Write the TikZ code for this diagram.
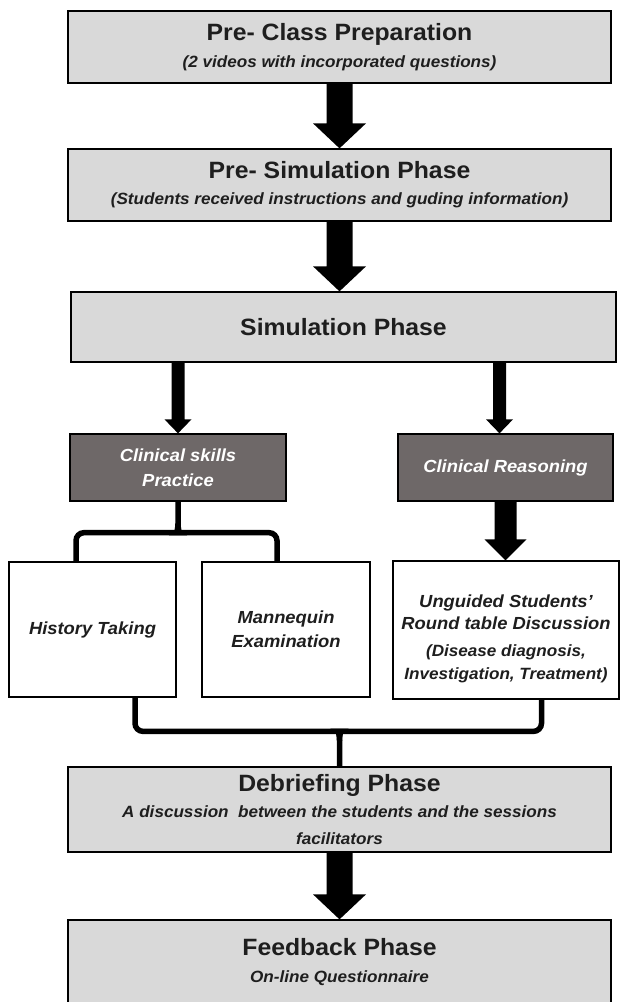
\documentclass[tikz,border=0pt]{standalone}
\usepackage{fontspec}
\setmainfont{Liberation Sans}[FakeStretch=1.05]
\usetikzlibrary{calc}
\definecolor{lightbox}{HTML}{D9D9D9}
\definecolor{darkbox}{HTML}{6E6868}
\definecolor{ink}{HTML}{1E1E1E}
\newcommand\ttlf{\fontsize{23.6}{28}\selectfont\bfseries\upshape}
\newcommand\subf{\fontsize{16.3}{19}\selectfont\bfseries\itshape}
\newcommand\midf{\fontsize{17.5}{21}\selectfont\bfseries\itshape}
% block arrow: from, to (same x), half shaft, half head, head length
\newcommand\blockarrow[5]{%
  \fill ($(#1)+(-#3,0)$) -- ($(#2)+(-#3,-#5)$) -- ($(#2)+(-#4,-#5)$) -- (#2)
        -- ($(#2)+(#4,-#5)$) -- ($(#2)+(#3,-#5)$) -- ($(#1)+(#3,0)$) -- cycle;}
\begin{document}
\begin{tikzpicture}[x=1pt,y=-1pt,
  box/.style={draw=black, line width=1.3pt, fill=lightbox, inner sep=0pt,
              text=ink, align=center, font=\subf},
  dbox/.style={box, fill=darkbox, text=white, font=\midf},
  wbox/.style={box, fill=white, font=\midf},
  brace/.style={line width=5.5pt, black}]
\fill[white] (0,0) rectangle (623,1002);
\useasboundingbox (0,0) rectangle (623,1002);

\node[box, minimum width=543pt, minimum height=72pt] (pre) at (339.5,47)
  {{\ttlf Pre- Class Preparation}\\[8pt](2 videos with incorporated questions)};
\node[box, minimum width=543pt, minimum height=72pt] (presim) at (339.5,185)
  {{\ttlf Pre- Simulation Phase}\\[7pt](Students received instructions and guding information)};
\node[box, minimum width=545pt, minimum height=70pt] (sim) at (343.5,327)
  {\ttlf Simulation Phase};
\node[dbox, minimum width=216pt, minimum height=67pt] (csp) at (178,467.5)
  {Clinical skills\\[4pt]Practice};
\node[dbox, minimum width=215pt, minimum height=67pt] (cr) at (505.5,467.5)
  {Clinical Reasoning};
\node[wbox, minimum width=167pt, minimum height=135pt] (hist) at (92.5,629.5)
  {History Taking};
\node[wbox, minimum width=168pt, minimum height=135pt] (mann) at (286,629.5)
  {Mannequin\\[3pt]Examination};
\node[wbox, minimum width=226pt, minimum height=138pt] (ung) at (506,630) {};
\node[align=center, text=ink, font=\subf, inner sep=0pt] (ungtxt) at ([yshift=-9pt]ung.center)
  {{\midf Unguided Students’}\\[3pt]{\midf Round table Discussion}\\[8pt](Disease diagnosis,\\[4pt]Investigation, Treatment)};
\node[box, minimum width=543pt, minimum height=85pt] (deb) at (339.5,809.5)
  {{\ttlf Debriefing Phase}\\[7pt]A discussion~ between the students and the sessions\\[8pt]facilitators};
\node[box, minimum width=543pt, minimum height=84pt] (fb) at (339.5,962)
  {{\ttlf Feedback Phase}\\[8pt]On-line Questionnaire};

% big arrows
\blockarrow{pre.south}{pre.south |- presim.north}{13}{26.5}{25}
\blockarrow{presim.south}{presim.south |- sim.north}{13}{26.5}{25}
\blockarrow{deb.south}{deb.south |- fb.north}{13}{26.5}{25}
% arrows from simulation
\coordinate (crin) at ([xshift=-6pt]cr.north);
\blockarrow{csp.north |- sim.south}{csp.north}{6.5}{13.5}{14}
\blockarrow{crin |- sim.south}{crin}{6.5}{13.5}{14}
\blockarrow{cr.south}{cr.south |- ung.north}{11}{21}{21}

% upper brace
\draw[brace] ($(hist.north)+(-16.5,0)$) [rounded corners=8pt] |- ($(csp.south)+(-8,31)$)
  [sharp corners] .. controls ($(csp.south)+(-2,31)$) and ($(csp.south)+(0,28)$) .. ($(csp.south)+(0,22)$) -- (csp.south);
\draw[brace] ($(mann.north)+(-9,0)$) [rounded corners=8pt] |- ($(csp.south)+(8,31)$)
  [sharp corners] .. controls ($(csp.south)+(2,31)$) and ($(csp.south)+(0,28)$) .. ($(csp.south)+(0,22)$);
% lower brace
\draw[brace] ($(hist.south)+(42.5,0)$) [rounded corners=8pt] |- ($(deb.north)+(-8,-35)$)
  [sharp corners] .. controls ($(deb.north)+(-2,-35)$) and ($(deb.north)+(0,-32)$) .. ($(deb.north)+(0,-26)$) -- (deb.north);
\draw[brace] ($(ung.south)+(35.5,0)$) [rounded corners=8pt] |- ($(deb.north)+(8,-35)$)
  [sharp corners] .. controls ($(deb.north)+(2,-35)$) and ($(deb.north)+(0,-32)$) .. ($(deb.north)+(0,-26)$);
\end{tikzpicture}
\end{document}
